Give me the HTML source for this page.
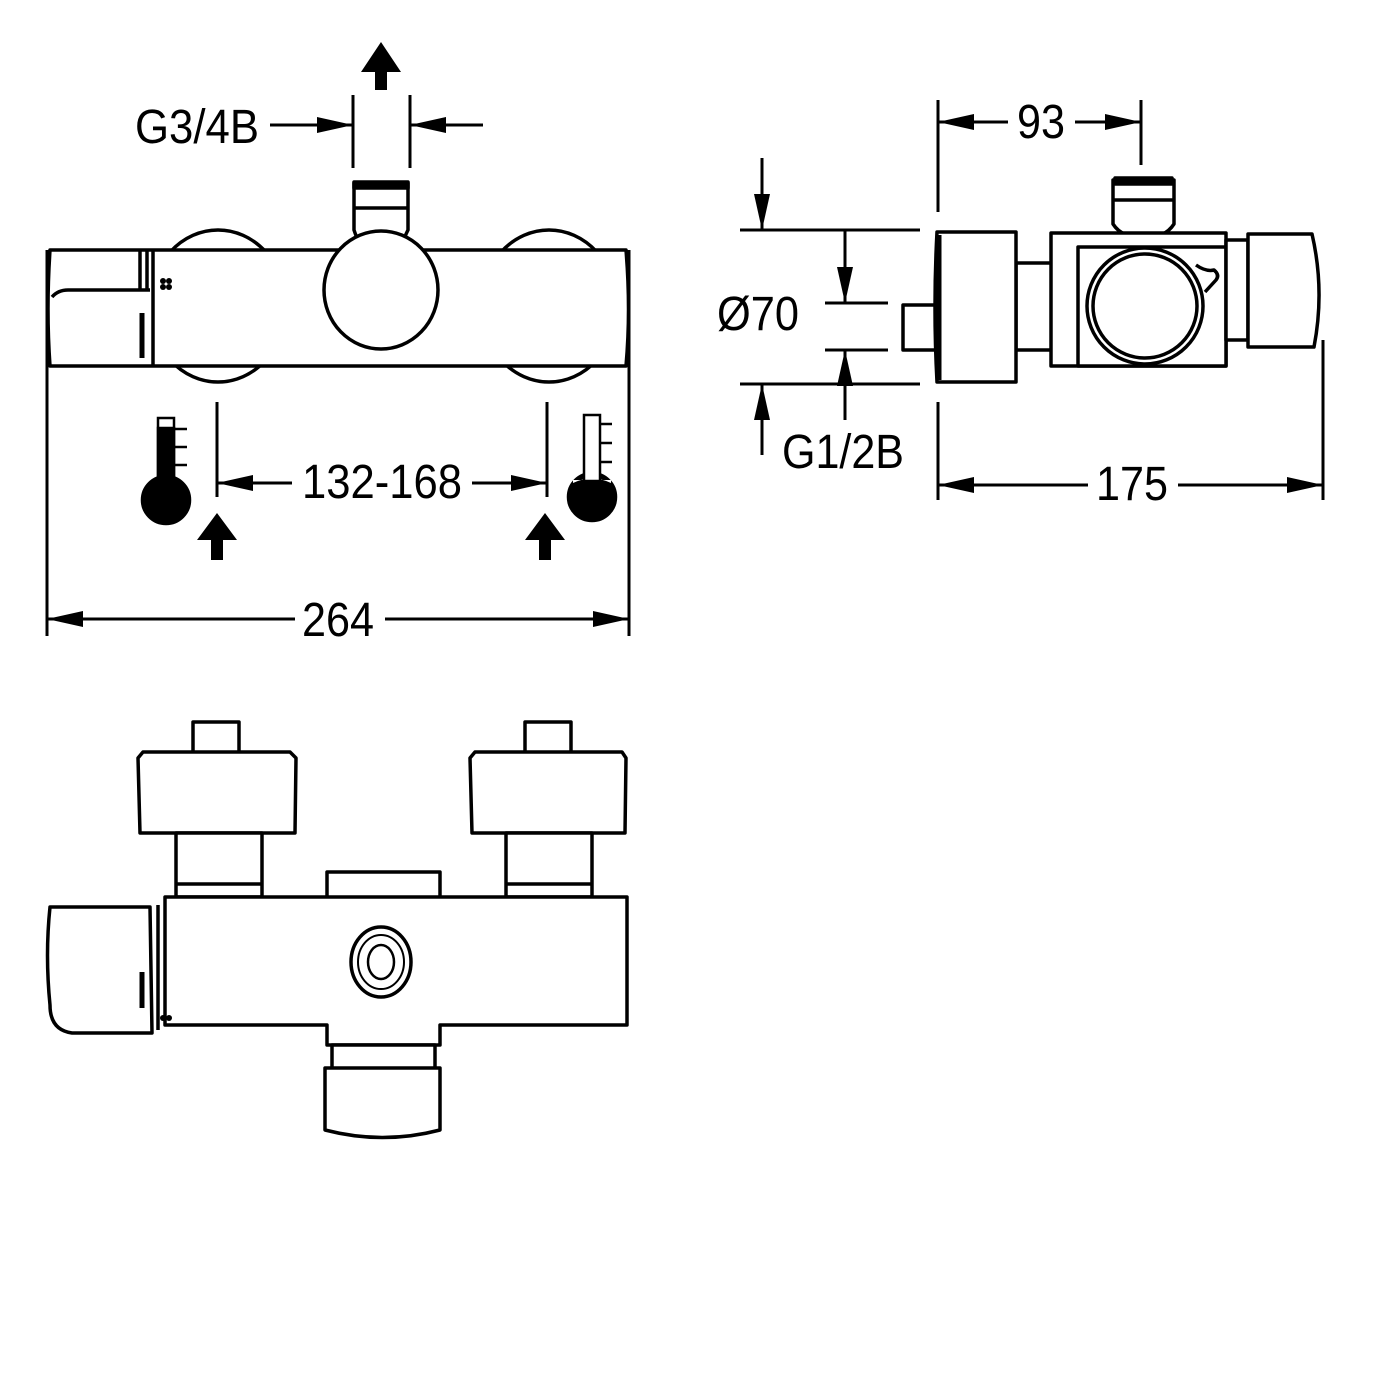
<!DOCTYPE html>
<html><head><meta charset="utf-8"><style>html,body{margin:0;padding:0;background:#fff}svg{display:block}</style></head>
<body>
<svg width="1400" height="1400" viewBox="0 0 1400 1400" xmlns="http://www.w3.org/2000/svg">
<defs>
<marker id="a" viewBox="0 0 36 16" refX="36" refY="8" markerWidth="36" markerHeight="16" markerUnits="userSpaceOnUse" orient="auto"><path d="M0,0 L36,8 L0,16 Z" fill="#000"/></marker>
</defs>
<g font-family="Liberation Sans, Arial, sans-serif" font-size="48" fill="#000">
<text x="135" y="143" textLength="124" lengthAdjust="spacingAndGlyphs">G3/4B</text>
<text x="302" y="498" textLength="160" lengthAdjust="spacingAndGlyphs">132-168</text>
<text x="302" y="636" textLength="72" lengthAdjust="spacingAndGlyphs">264</text>
<text x="1017" y="138" textLength="48" lengthAdjust="spacingAndGlyphs">93</text>
<text x="717" y="330" textLength="82" lengthAdjust="spacingAndGlyphs">Ø70</text>
<text x="782" y="468" textLength="122" lengthAdjust="spacingAndGlyphs">G1/2B</text>
<text x="1096" y="500" textLength="72" lengthAdjust="spacingAndGlyphs">175</text>
</g>
<g stroke="#000" stroke-width="3" fill="none">
<line x1="353" y1="95" x2="353" y2="168"/><line x1="410" y1="95" x2="410" y2="168"/>
<line x1="270" y1="125" x2="353" y2="125" marker-end="url(#a)"/>
<line x1="483" y1="125" x2="410" y2="125" marker-end="url(#a)"/>
<line x1="217" y1="402" x2="217" y2="497"/><line x1="547" y1="402" x2="547" y2="497"/>
<line x1="292" y1="483" x2="217" y2="483" marker-end="url(#a)"/>
<line x1="472" y1="483" x2="547" y2="483" marker-end="url(#a)"/>
<line x1="47" y1="250" x2="47" y2="636"/><line x1="629" y1="250" x2="629" y2="636"/>
<line x1="295" y1="619" x2="47" y2="619" marker-end="url(#a)"/>
<line x1="385" y1="619" x2="629" y2="619" marker-end="url(#a)"/>
<line x1="938" y1="100" x2="938" y2="212"/><line x1="1141" y1="100" x2="1141" y2="165"/>
<line x1="1008" y1="122" x2="938" y2="122" marker-end="url(#a)"/>
<line x1="1075" y1="122" x2="1141" y2="122" marker-end="url(#a)"/>
<line x1="740" y1="230" x2="920" y2="230"/><line x1="740" y1="384" x2="920" y2="384"/>
<line x1="762" y1="158" x2="762" y2="230" marker-end="url(#a)"/>
<line x1="762" y1="455" x2="762" y2="384" marker-end="url(#a)"/>
<line x1="825" y1="303" x2="888" y2="303"/><line x1="825" y1="350" x2="888" y2="350"/>
<line x1="845" y1="230" x2="845" y2="303" marker-end="url(#a)"/>
<line x1="845" y1="420" x2="845" y2="350" marker-end="url(#a)"/>
<line x1="938" y1="402" x2="938" y2="500"/><line x1="1323" y1="340" x2="1323" y2="500"/>
<line x1="1088" y1="485" x2="938" y2="485" marker-end="url(#a)"/>
<line x1="1178" y1="485" x2="1323" y2="485" marker-end="url(#a)"/>
</g>
<g fill="#000">
<path d="M381,42 L401,72 L387,72 L387,90 L375,90 L375,72 L361,72 Z"/>
<path d="M217,513 L237,540 L223,540 L223,560 L211,560 L211,540 L197,540 Z"/>
<path d="M545,513 L565,540 L551,540 L551,560 L539,560 L539,540 L525,540 Z"/>
</g>
<g stroke="#000" stroke-width="2.5">
<rect x="158" y="418" width="16" height="70" fill="#fff"/>
<rect x="158" y="428" width="16" height="60" fill="#000"/>
<circle cx="166" cy="500" r="24" fill="#000"/>
<line x1="174" y1="429" x2="187" y2="429"/><line x1="174" y1="447" x2="187" y2="447"/><line x1="174" y1="465" x2="187" y2="465"/>
<circle cx="592" cy="497" r="24" fill="#000"/>
<path d="M573,483 Q592,474 611,483 L611,480 L573,480 Z" fill="#fff" stroke="none"/>
<rect x="584" y="415" width="16" height="66" fill="#fff"/>
<line x1="600" y1="424" x2="612" y2="424"/><line x1="600" y1="443" x2="612" y2="443"/><line x1="600" y1="462" x2="612" y2="462"/>
</g>
<g stroke="#000" stroke-width="3.5" fill="#fff" stroke-linejoin="round">
<ellipse cx="218" cy="306" rx="68" ry="76"/>
<ellipse cx="549" cy="306" rx="68" ry="76"/>
<path d="M50,250 L626,250 Q631,310 626,366 L50,366 Q46,310 50,250 Z"/>
<line x1="153" y1="250" x2="153" y2="366"/>
<line x1="140" y1="250" x2="140" y2="290"/><line x1="147" y1="250" x2="147" y2="290"/>
<path d="M52,297 Q58,290 68,290 L150,290" fill="none"/>
<line x1="142" y1="313" x2="142" y2="358" stroke-width="5"/>
<path d="M354,183 L408,183 L408,230 Q404,238 404,240 L358,240 Q356,236 354,230 Z"/>
<line x1="354" y1="208" x2="408" y2="208"/>
<rect x="354" y="182" width="54" height="6" fill="#000"/>
<ellipse cx="381" cy="290" rx="57" ry="59"/>
</g>
<g fill="#000"><circle cx="163" cy="281" r="3"/><circle cx="169" cy="281" r="3"/><circle cx="163" cy="287" r="3"/><circle cx="169" cy="287" r="3"/></g>
<g stroke="#000" stroke-width="3.5" fill="#fff" stroke-linejoin="round">
<rect x="903" y="305" width="33" height="45"/>
<rect x="1016" y="263" width="50" height="87"/>
<path d="M937,232 L1016,232 L1016,382 L937,382 Q933,307 937,232 Z"/>
<line x1="939" y1="235" x2="939" y2="380" stroke-width="5"/>
<path d="M1113,180 L1174,180 L1174,224 Q1165,238 1144,238 Q1122,238 1113,224 Z"/>
<line x1="1113" y1="200" x2="1174" y2="200"/>
<rect x="1115" y="178" width="57" height="6" fill="#000"/>
<rect x="1051" y="233" width="175" height="133"/>
<rect x="1078" y="247" width="148" height="119"/>
<rect x="1226" y="240" width="22" height="100"/>
<path d="M1248,234 L1312,234 Q1325,290 1314,347 L1248,347 Z"/>
<path d="M1196,265 Q1206,272 1214,270 Q1220,275 1216,280 L1205,292" />
<circle cx="1145" cy="306" r="58"/>
<circle cx="1145" cy="306" r="52"/>
</g>
<g stroke="#000" stroke-width="3.5" fill="#fff" stroke-linejoin="round">
<rect x="193" y="722" width="46" height="32"/>
<rect x="525" y="722" width="46" height="32"/>
<path d="M143,752 L290,752 L296,758 L295,833 L140,833 L138,758 Z"/>
<path d="M475,752 L622,752 L626,758 L625,833 L472,833 L470,758 Z"/>
<rect x="176" y="833" width="86" height="64"/>
<rect x="506" y="833" width="86" height="64"/>
<line x1="176" y1="884" x2="262" y2="884"/><line x1="506" y1="884" x2="592" y2="884"/>
<path d="M327,897 L327,872 L440,872 L440,897"/>
<path d="M165,937 L165,897 L627,897 L627,1025 L440,1025 L440,1045 L327,1045 L327,1025 L165,1025 Z"/>
<rect x="332" y="1045" width="103" height="25"/>
<path d="M325,1068 L440,1068 L440,1130 Q383,1145 325,1130 Z"/>
<path d="M50,907 L150,907 L152,1033 L72,1033 Q50,1030 50,1005 Q45,955 50,907 Z"/>
<line x1="158" y1="905" x2="158" y2="1030"/>
<line x1="142" y1="972" x2="142" y2="1008" stroke-width="5"/>
<ellipse cx="381" cy="962" rx="30" ry="35"/>
<ellipse cx="381" cy="962" rx="23" ry="27" stroke-width="2"/>
<ellipse cx="381" cy="962" rx="13" ry="17" stroke-width="2.5"/>
</g>
<g fill="#000"><circle cx="163" cy="1018" r="3"/><circle cx="169" cy="1018" r="3"/></g>
</svg>
</body></html>
